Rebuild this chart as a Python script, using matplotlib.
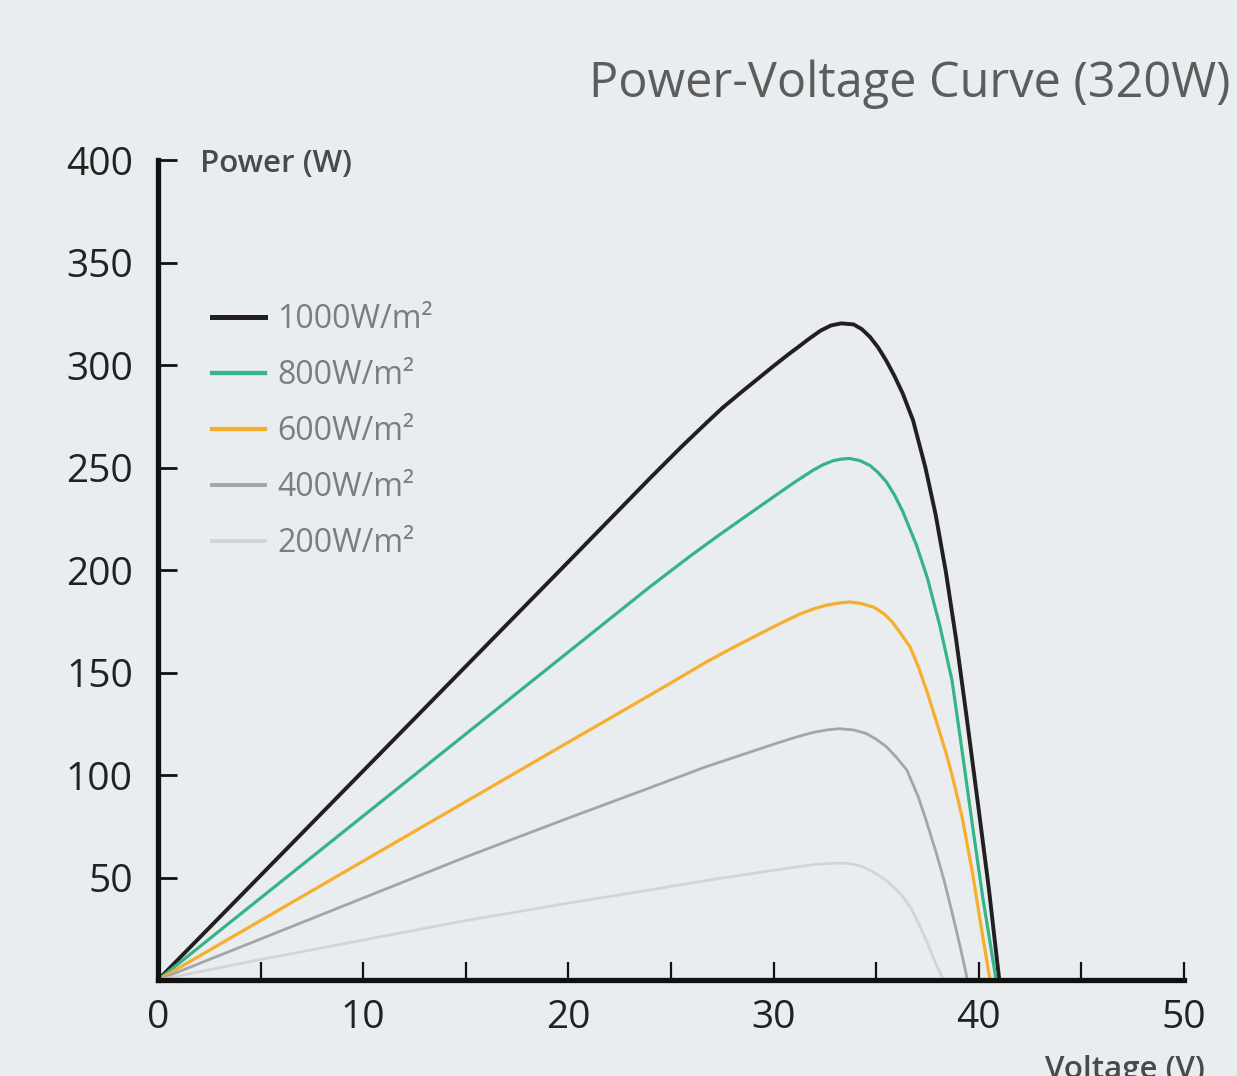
import matplotlib
matplotlib.use("Agg")
import matplotlib.pyplot as plt

# values (voltage V, power W)
v_1000 = [0, 5, 10, 15, 20, 24, 25.5, 26.7, 27.5, 28.4, 29.2, 30, 30.7, 31.3, 31.8,
          32.3, 32.8, 33.3, 33.9, 34.3, 34.7, 35.1, 35.5, 35.9, 36.3, 36.8, 37.4,
          37.9, 38.4, 38.9, 39.4, 40.0, 40.5, 41.0]
p_1000 = [0, 51, 102, 153, 204, 245, 260, 271.5, 279, 286.5, 293, 299.5, 305, 309.5, 313.3,
          316.8, 319.3, 320.3, 319.8, 317.5, 313.7, 308.5, 302, 294.5, 286, 273, 250,
          227, 199, 166, 129, 83, 44, 0]

v_800 = [0, 5, 10, 15, 20, 24, 25.9, 27.2, 28.4, 29.4, 30.3, 31.1, 31.9, 32.4, 32.9,
         33.3, 33.7, 34.2, 34.7, 35.1, 35.5, 35.9, 36.3, 36.97, 37.5, 38.1, 38.7,
         39.2, 39.7, 40.2, 40.85]
p_800 = [0, 40, 80, 120, 160, 192, 206.5, 216, 224.5, 231.5, 237.8, 243.3, 248.5, 251.3, 253.3,
         254.1, 254.4, 253.4, 251, 247.5, 243, 236.5, 228.5, 212, 196, 173, 146,
         111, 75, 40, 0]

v_600 = [0, 5, 10, 15, 20, 24.5, 25.6, 26.7, 28, 29.2, 30.3, 31.3, 32.0, 32.6, 33.2,
         33.7, 34.3, 34.9, 35.4, 35.8, 36.2, 36.65, 37.05, 37.5, 38.0, 38.4, 38.75,
         39.2, 39.7, 40.1, 40.55]
p_600 = [0, 29, 58, 87, 116, 142, 148.5, 155, 162, 168.2, 173.8, 178.6, 181.2, 182.9, 183.9,
         184.4, 183.6, 181.8, 178.5, 174.5, 169, 162.5, 153, 140, 124, 111, 98,
         79, 52, 27, 0]

v_400 = [0, 5, 10, 15, 20, 23.5, 26.7, 30, 31.1, 31.9, 32.6, 33.2, 33.9, 34.5, 35.0,
         35.5, 36.0, 36.5, 37.05, 37.4, 37.9, 38.3, 38.7, 39.1, 39.45]
p_400 = [0, 20, 40, 60, 79, 92, 104, 115, 118.5, 120.7, 122, 122.6, 122, 120.3, 117.5,
         113.8, 108.5, 102.4, 89.4, 79, 63, 49, 33, 16, 0]

v_200 = [0, 5, 10, 15, 20, 24, 27, 30, 31, 32, 32.6, 33.1, 33.6, 34.0, 34.4,
         34.9, 35.5, 36.2, 36.7, 37.1, 37.5, 37.9, 38.3]
p_200 = [0, 10, 19.5, 29, 37.5, 44, 49, 53.5, 55, 56.3, 56.8, 57, 56.9, 56.3, 55,
         52.5, 48.5, 42, 35, 27, 18, 8, 0]

labels = ["1000W/m²", "800W/m²", "600W/m²", "400W/m²", "200W/m²"]
colors = ["#231f20", "#35b487", "#f6ae2d", "#a2a5a9", "#d3d4d9"]
widths = [2.8, 2.3, 2.3, 2.0, 2.0]

x_major = [0, 10, 20, 30, 40, 50]
x_minor = [5, 15, 25, 35, 45]
y_ticks = [50, 100, 150, 200, 250, 300, 350, 400]

BG = "#e9edef"
FONT = ["Open Sans", "DejaVu Sans"]

fig = plt.figure(figsize=(12.37, 10.76), dpi=100, facecolor=BG)
ax = fig.add_axes([0.1277, 0.0892, 0.8294, 0.7621], facecolor=BG)

series = [(v_1000, p_1000), (v_800, p_800), (v_600, p_600), (v_400, p_400), (v_200, p_200)]
for (v, p), lab, c, w in zip(series, labels, colors, widths):
    ax.plot(v, p, color=c, lw=w, label=lab, solid_joinstyle="round", zorder=3)

ax.set_xlim(0, 50)
ax.set_ylim(0, 400)
for s in ("top", "right"):
    ax.spines[s].set_visible(False)
for s in ("left", "bottom"):
    ax.spines[s].set_linewidth(3.8)
    ax.spines[s].set_color("#111111")
    ax.spines[s].set_zorder(4)

ax.set_xticks(x_major)
ax.set_xticks(x_minor, minor=True)
ax.set_yticks(y_ticks)
ax.tick_params(axis="x", which="both", direction="in", length=13, width=1.6,
               color="#111111", pad=14, labelsize=28, labelcolor="#222222")
ax.tick_params(axis="y", direction="in", length=14, width=2.0, color="#111111",
               pad=18, labelsize=28, labelcolor="#222222")
for t in ax.get_xticklabels() + ax.get_yticklabels():
    t.set_fontfamily(FONT)

leg = ax.legend(loc="upper left", bbox_to_anchor=(0.0526, 0.826), frameon=False,
                prop={"family": FONT, "size": 23}, handlelength=1.65,
                handletextpad=0.4, labelspacing=0.72, borderaxespad=0, borderpad=0)
for txt in leg.get_texts():
    txt.set_color("#7d7d7d")
for line in leg.get_lines():
    line.set_linewidth(line.get_linewidth() + 0.8)

fig.text(0.9945, 0.922, "Power-Voltage Curve (320W)", ha="right", va="center",
         fontsize=35, color="#5c5c5c", family=FONT)
fig.text(0.162, 0.848, "Power (W)", ha="left", va="center", fontsize=22.5,
         color="#4a4a4a", family=FONT, weight="semibold")
fig.text(0.974, 0.006, "Voltage (V)", ha="right", va="center", fontsize=22.5,
         color="#4a4a4a", family=FONT, weight="semibold")

fig.savefig("out.png", dpi=100, facecolor=BG)
